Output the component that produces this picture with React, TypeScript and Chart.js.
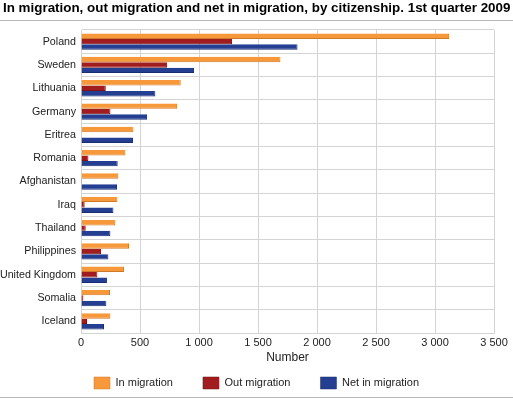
import React, { useEffect, useRef } from "react";
import { Chart, registerables } from "chart.js";

Chart.register(...registerables);

const categories = ["Poland", "Sweden", "Lithuania", "Germany", "Eritrea", "Romania", "Afghanistan", "Iraq", "Thailand", "Philippines", "United Kingdom", "Somalia", "Iceland"];
const inMigration = [3120, 1690, 845, 815, 444, 376, 317, 308, 291, 407, 365, 246, 249];
const outMigration = [1280, 730, 210, 250, 3, 63, 8, 31, 40, 170, 139, 20, 51];
const netInMigration = [1835, 958, 630, 560, 441, 311, 305, 275, 249, 232, 220, 215, 195];
const xTicks = [0, 500, 1000, 1500, 2000, 2500, 3000, 3500];

const titleText = "In migration, out migration and net in migration, by citizenship. 1st quarter 2009";
const FONT = "'Liberation Sans', Arial, sans-serif";

const decor = {
  id: "decor",
  afterInit(chart: any) {
    const lg = chart.legend;
    if (lg) {
      const orig = lg.fit.bind(lg);
      lg.fit = function () {
        orig();
        this.height = 20;
      };
    }
  },
  afterLayout(chart: any) {
    const lg = chart.legend;
    if (lg) {
      lg.top = 347;
      lg.bottom = 399;
      lg.height = 52;
      lg.left = 0;
      lg.right = 513;
      lg.width = 513;
    }
  },
  afterDraw(chart: any) {
    const ctx = chart.ctx;
    ctx.save();
    ctx.fillStyle = "#000";
    ctx.font = "bold 13.4px " + FONT;
    ctx.textBaseline = "middle";
    ctx.textAlign = "left";
    ctx.fillText(titleText, 3, 8);
    ctx.fillStyle = "#b8b8b8";
    ctx.fillRect(0, 20, chart.width, 1);
    ctx.fillRect(0, 397, chart.width, 1);
    ctx.restore();
  },
};

export default function App() {
  const ref = useRef<HTMLCanvasElement>(null);
  useEffect(() => {
    document.body.style.margin = "0";
    const bw = { top: 0, right: 1, bottom: 1, left: 0 } as any;
    const chart = new Chart(ref.current!, {
      type: "bar",
      data: {
        labels: categories,
        datasets: [
          { label: "In migration", data: inMigration, backgroundColor: "#f7993a", borderColor: "#cf7a2a", borderWidth: bw, borderSkipped: false },
          { label: "Out migration", data: outMigration, backgroundColor: "#a01c1f", borderColor: "#7a1416", borderWidth: bw, borderSkipped: false },
          { label: "Net in migration", data: netInMigration, backgroundColor: "#243e92", borderColor: "#1a2d70", borderWidth: bw, borderSkipped: false },
        ],
      },
      options: {
        indexAxis: "y",
        animation: false,
        responsive: false,
        maintainAspectRatio: false,
        layout: { padding: { top: 30, right: 19, left: 0, bottom: 4 } },
        datasets: { bar: { categoryPercentage: 0.7, barPercentage: 1 } },
        scales: {
          x: {
            min: 0,
            max: 3500,
            afterBuildTicks: (s: any) => { s.ticks = xTicks.map((v) => ({ value: v })); },
            afterFit: (s: any) => { s.height = 42; },
            ticks: {
              color: "#222",
              font: { family: FONT, size: 11 },
              padding: 3,
              callback: (v: any) => String(v).replace(/\B(?=(\d{3})+(?!\d))/g, " "),
            },
            grid: { color: "#d4d4d4", drawTicks: false },
            border: { color: "#d4d4d4" },
            title: { display: true, text: "Number", color: "#222", font: { family: FONT, size: 12 }, padding: { top: 2, bottom: 10 } },
          },
          y: {
            afterFit: (s: any) => { s.width = 81; },
            ticks: { color: "#222", font: { family: FONT, size: 10.7 }, padding: 5 },
            grid: { color: "#d4d4d4", drawTicks: false, offset: true },
            border: { color: "#d4d4d4" },
          },
        },
        plugins: {
          title: { display: false },
          tooltip: { enabled: false },
          legend: {
            position: "bottom",
            labels: { boxWidth: 16, boxHeight: 12, padding: 30, color: "#222", font: { family: FONT, size: 11 } },
          },
        },
      },
      plugins: [decor],
    });
    return () => chart.destroy();
  }, []);
  return <canvas ref={ref} width={513} height={399} style={{ display: "block" }} />;
}
